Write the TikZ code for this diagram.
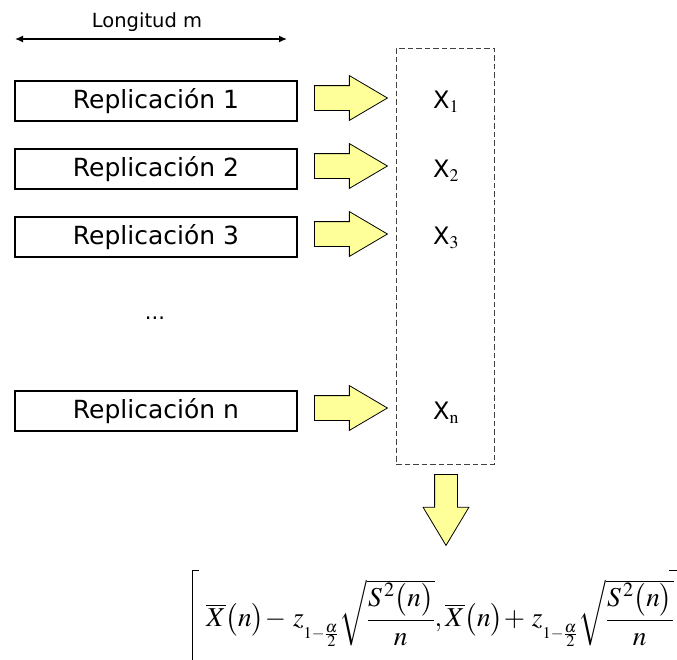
\documentclass[tikz,border=0pt]{standalone}
\usepackage{amsmath}
\usepackage{mathptmx}
\usepackage{fontspec}
\setmainfont{DejaVu Sans}
\usetikzlibrary{arrows.meta,shapes.arrows,calc}
\definecolor{arrowfill}{RGB}{255,255,153}
\tikzset{
  repbox/.style={draw=black, line width=2pt, minimum width=282pt, minimum height=40pt,
    inner sep=0pt, font=\fontsize{25}{29}\selectfont},
  rightarrow/.style={single arrow, draw=black, fill=arrowfill, line width=0.8pt,
    anchor=tail, minimum height=73pt, inner xsep=0pt, inner ysep=12pt,
    single arrow head extend=10pt, single arrow tip angle=61},
  downarrow/.style={single arrow, draw=black, fill=arrowfill, line width=0.8pt,
    anchor=tail, shape border rotate=270, minimum height=71pt,
    inner xsep=11pt, inner ysep=0pt, single arrow head extend=11.5pt,
    single arrow tip angle=62},
  xlabel/.style={font=\fontsize{24}{28}\selectfont, inner sep=0pt},
  dashbox/.style={draw=black!75, dash pattern=on 5.5pt off 3pt, line width=0.8pt},
}
\begin{document}
\begin{tikzpicture}[x=1pt, y=-1pt]
  \useasboundingbox (0,0) rectangle (677,659);

  % length indicator
  \coordinate (la) at (15,39);
  \coordinate (lb) at (287,39);
  \draw[line width=1.4pt, {Latex[length=8pt,width=7pt]}-{Latex[length=8pt,width=7pt]}] (la) -- (lb);
  \node[font=\fontsize{19.5}{23}\selectfont] (lt) at (147,22) {Longitud m};

  % replications
  \node[repbox] (r1) at (156,101) {Replicación 1};
  \node[repbox] (r2) at (156,169) {Replicación 2};
  \node[repbox] (r3) at (156,237) {Replicación 3};
  \node[font=\fontsize{21}{24}\selectfont] (dots) at (155,318) {...};
  \node[repbox] (rn) at (156,411) {Replicación n};

  % arrows into the sample column
  \node[rightarrow] (a1) at (314,98) {};
  \node[rightarrow] (a2) at (314,166) {};
  \node[rightarrow] (a3) at (314,234) {};
  \node[rightarrow] (an) at (314,408) {};

  % sample column
  \node[dashbox, minimum width=98pt, minimum height=416pt, inner sep=0pt] (col) at (445,256) {};
  \node[xlabel] (x1) at (446,102) {X$_{\mathrm{1}}$};
  \node[xlabel] (x2) at (446,171) {X$_{\mathrm{2}}$};
  \node[xlabel] (x3) at (446,238) {X$_{\mathrm{3}}$};
  \node[xlabel] (xn) at (446,413) {X$_{\mathrm{n}}$};

  % arrow down to the interval
  \node[downarrow] (ad) at (446,474) {};

  % confidence interval
  \node[inner sep=0pt, font=\fontsize{27.3}{31}\selectfont] (ci) at (440,613)
    {$\overline{X}\bigl(n\bigr)\!-\,z_{{}_{1-\frac{\alpha}{2}}}\sqrt{\dfrac{S^{\,2}\bigl(n\bigr)}{n}},\overline{X}\bigl(n\bigr)\!+\,z_{{}_{1-\frac{\alpha}{2}}}\sqrt{\dfrac{S^{\,2}\bigl(n\bigr)}{n}}$};
  \coordinate (lbt) at (192,570);
  \coordinate (rbt) at (669,570);
  \draw[line width=1pt] ($(lbt)+(0,100)$) -- (lbt) -- ++(7,0);
  \draw[line width=1pt] (rbt) -- ++(10,0);
\end{tikzpicture}
\end{document}
